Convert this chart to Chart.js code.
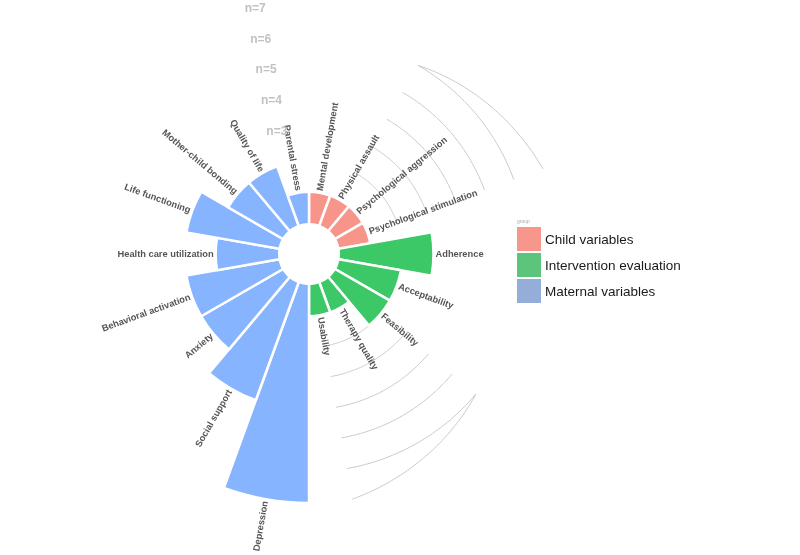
<!DOCTYPE html>
<html>
<head>
<meta charset="utf-8">
<script src="https://cdn.jsdelivr.net/npm/chart.js@4.4.1/dist/chart.umd.min.js"></script>
<style>
  body { margin: 0; background: #fff; }
</style>
</head>
<body>
<canvas id="myChart" width="800" height="555"></canvas>
<script>
// datos: numero de estudios por variable, por grupo
const childVars = ['Mental development', 'Physical assault', 'Psychological aggression', 'Psychological stimulation'];
const childN = [1, 1, 1, 1];
const interventionVars = ['Adherence', 'Acceptability', 'Feasibility', 'Therapy quality', 'Usability'];
const interventionN = [3, 2, 2, 1, 1];
const maternalVars = ['Depression', 'Social support', 'Anxiety', 'Behavioral activation', 'Health care utilization',
    'Life functioning', 'Mother-child bonding', 'Quality of life', 'Parental stress'];
const maternalN = [7, 4, 3, 3, 2, 3, 2, 2, 1];
const groupNames = ['Child variables', 'Intervention evaluation', 'Maternal variables'];
const nLabels = [3, 4, 5, 6, 7];
// lineas guia (valor inicial -> valor final)
const gridFrom = [2, 3, 4, 5, 6, 6];
const gridTo = [2, 3, 4, 5, 6, 7];

const barColors = ['#F8958B', '#3CC867', '#86B4FF'];
const legendColors = ['#F7968B', '#5DC47B', '#94AED9'];

const labels = [...childVars, ...interventionVars, ...maternalVars];
const values = [...childN, ...interventionN, ...maternalN];
const colors = [
    ...childVars.map(() => barColors[0]),
    ...interventionVars.map(() => barColors[1]),
    ...maternalVars.map(() => barColors[2])
];
// rangos de barras (indices) donde van las lineas guia
const gridRanges = [[1, 3], [6, 8]];

const midAngle = (arc) => (arc.startAngle + arc.endAngle) / 2;

const circPlugin = {
    id: 'circ',
    beforeDatasetsDraw(chart) {
        const ctx = chart.ctx;
        const sc = chart.scales.r;
        const arcs = chart.getDatasetMeta(0).data;
        ctx.save();
        ctx.strokeStyle = '#c8c8c8';
        ctx.lineWidth = 1;
        gridRanges.forEach(([i0, i1]) => {
            const a0 = midAngle(arcs[i0]);
            const a1 = midAngle(arcs[i1]);
            gridFrom.forEach((v0, k) => {
                const v1 = gridTo[k];
                ctx.beginPath();
                for (let s = 0; s <= 80; s++) {
                    const t = s / 80;
                    const a = a0 + (a1 - a0) * t;
                    const r = sc.getDistanceFromCenterForValue(v0 + (v1 - v0) * t);
                    const x = sc.xCenter + r * Math.cos(a);
                    const y = sc.yCenter + r * Math.sin(a);
                    if (s === 0) ctx.moveTo(x, y); else ctx.lineTo(x, y);
                }
                ctx.stroke();
            });
        });
        ctx.restore();
    },
    afterDatasetsDraw(chart) {
        const ctx = chart.ctx;
        const sc = chart.scales.r;
        const arcs = chart.getDatasetMeta(0).data;
        ctx.save();
        // hueco central
        ctx.fillStyle = '#fff';
        ctx.beginPath();
        ctx.arc(sc.xCenter, sc.yCenter, sc.getDistanceFromCenterForValue(0), 0, Math.PI * 2);
        ctx.fill();

        // etiquetas de cada barra
        ctx.font = 'bold 9.3px "Liberation Sans", Arial, sans-serif';
        ctx.fillStyle = '#555';
        ctx.textBaseline = 'middle';
        arcs.forEach((arc, i) => {
            const a = midAngle(arc);
            const r = sc.getDistanceFromCenterForValue(values[i]) + 2;
            const clock = a + Math.PI / 2;
            ctx.save();
            ctx.translate(sc.xCenter + r * Math.cos(a), sc.yCenter + r * Math.sin(a));
            if (clock < Math.PI) {
                ctx.rotate(a);
                ctx.textAlign = 'left';
            } else {
                ctx.rotate(a + Math.PI);
                ctx.textAlign = 'right';
            }
            ctx.fillText(labels[i], 0, 0);
            ctx.restore();
        });

        // n=...
        const last = midAngle(arcs[arcs.length - 1]);
        ctx.font = 'bold 12px "Liberation Sans", Arial, sans-serif';
        ctx.fillStyle = '#c2c2c2';
        ctx.textAlign = 'right';
        nLabels.forEach(n => {
            const r = sc.getDistanceFromCenterForValue(n);
            ctx.fillText('n=' + n, sc.xCenter + r * Math.cos(last), sc.yCenter + r * Math.sin(last));
        });

        // leyenda
        ctx.textAlign = 'left';
        ctx.fillStyle = '#aaa';
        ctx.font = '5px "Liberation Sans", Arial, sans-serif';
        ctx.fillText('group', 517, 222);
        groupNames.forEach((g, i) => {
            const y = 227 + i * 26;
            ctx.fillStyle = legendColors[i];
            ctx.fillRect(517, y, 24, 24);
            ctx.fillStyle = '#1a1a1a';
            ctx.font = '13.5px "Liberation Sans", Arial, sans-serif';
            ctx.fillText(g, 545, y + 13);
        });
        ctx.restore();
    }
};

var ctx1 = document.getElementById('myChart').getContext('2d');
var myChart = new Chart(ctx1, {
    type: 'polarArea',
    data: {
        labels: labels,
        datasets: [{
            data: values,
            backgroundColor: colors,
            borderColor: '#fff',
            borderWidth: 2.5
        }]
    },
    options: {
        responsive: false,
        animation: false,
        layout: {
            padding: { left: 60, top: 5, right: 242, bottom: 52 }
        },
        plugins: {
            legend: { display: false },
            tooltip: { enabled: false }
        },
        scales: {
            r: {
                min: -1,
                max: 7,
                ticks: { display: false },
                grid: { display: false },
                angleLines: { display: false },
                pointLabels: { display: false }
            }
        }
    },
    plugins: [circPlugin]
});
</script>
</body>
</html>
